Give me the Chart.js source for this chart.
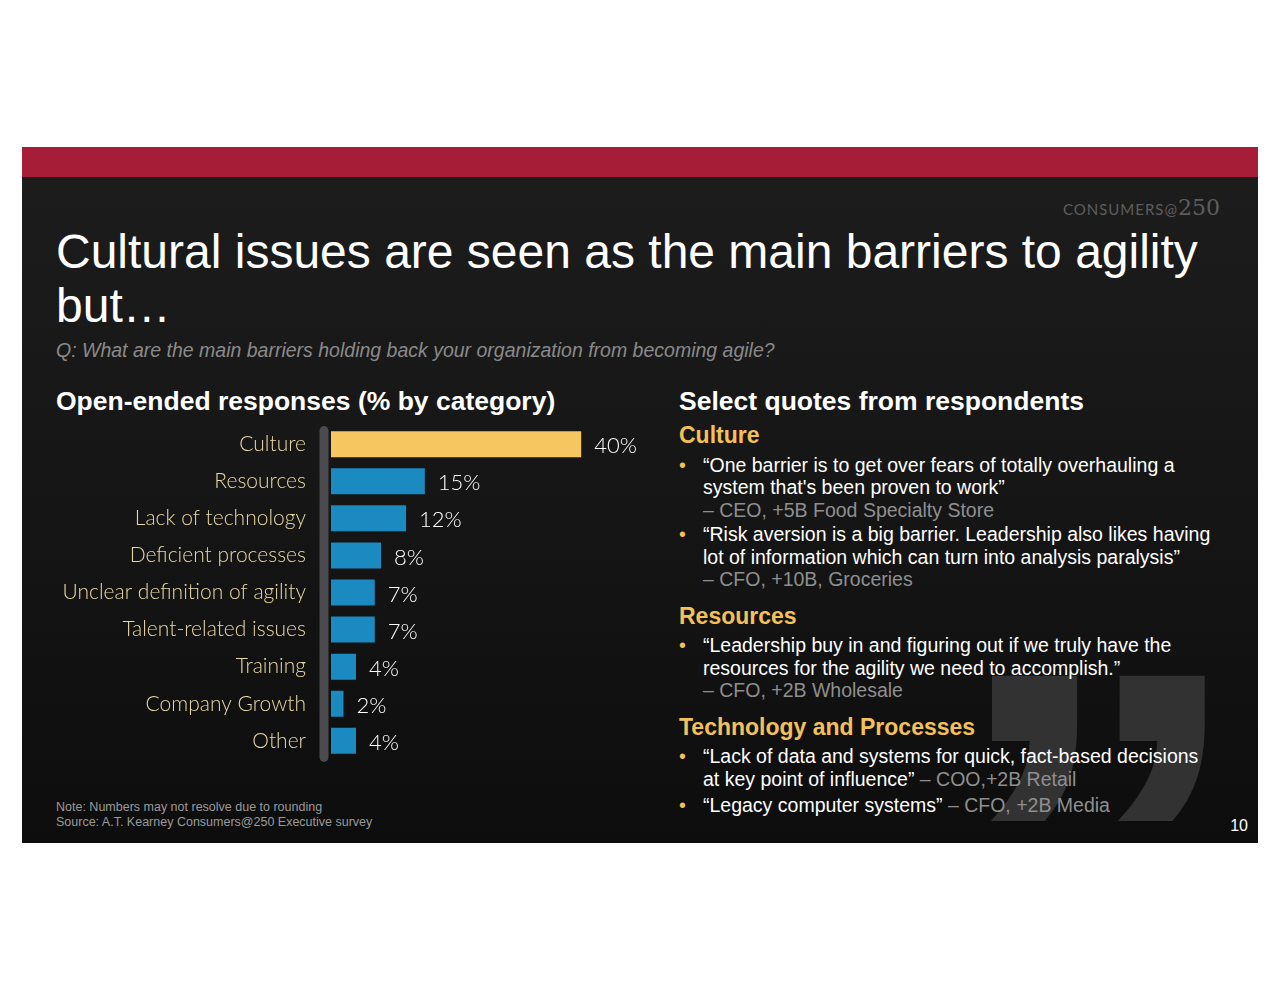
<!DOCTYPE html>
<html><head><meta charset="utf-8">
<script src="https://cdn.jsdelivr.net/npm/chart.js"></script>
<style>
body{margin:0;width:1280px;height:990px;background:#fff;position:relative;overflow:hidden;font-family:"Liberation Sans",Arial,sans-serif}
#panel{position:absolute;left:22px;top:147px;width:1236px;height:696px;background:linear-gradient(180deg,#1d1d1d 0%,#141414 60%,#0d0d0d 100%);overflow:hidden}
#band{position:absolute;left:0;top:0;width:100%;height:30px;background:#a51d36}
.abs{position:absolute}
#logo{right:38px;top:48px;color:#5e5e5e;font-family:Lato;font-size:15px;letter-spacing:1px}
#logo b{font-family:"DejaVu Serif";font-weight:normal;font-size:22px;letter-spacing:0}
#title{left:34px;top:78px;color:#fff;font-size:48px;line-height:54px;width:1190px}
#q{left:34px;top:192px;color:#8a8a8a;font-style:italic;font-size:19.5px}
#h1{left:34px;top:239px;color:#fff;font-weight:bold;font-size:26.5px}
#h2{left:657px;top:239px;color:#fff;font-weight:bold;font-size:26.5px}
#quote{left:924px;top:447px;color:#323232;font-family:"Liberation Sans";font-weight:bold;font-size:515px;line-height:515px;transform:scaleX(1.18);transform-origin:left top}
#quotes{left:657px;top:277px;width:535px;color:#fff;font-size:19.5px;line-height:22.5px}
#quotes h3{color:#f3c15a;font-size:23px;margin:0 0 7px 0}
#quotes .it{position:relative;padding-left:24px;margin-bottom:2px}
#quotes .it:before{content:"•";color:#f3c15a;position:absolute;left:0}
.g{color:#8f8f8f}
#note{left:34px;top:653px;color:#9a9a9a;font-size:12.5px;line-height:15px}
#pg{right:10px;top:670px;color:#fff;font-size:16px}
#c{position:absolute;left:18px;top:249px}
</style></head><body>
<div id="panel">
<div id="band"></div>
<div class="abs" id="logo">CONSUMERS@<b>250</b></div>
<div class="abs" id="title">Cultural issues are seen as the main barriers to agility but…</div>
<div class="abs" id="q">Q: What are the main barriers holding back your organization from becoming agile?</div>
<div class="abs" id="h1">Open-ended responses (% by category)</div>
<div class="abs" id="h2">Select quotes from respondents</div>
<div class="abs" id="quote">”</div>
<div class="abs" id="quotes">
<h3>Culture</h3>
<div class="it">“One barrier is to get over fears of totally overhauling a system that's been proven to work”<br><span class="g">– CEO, +5B Food Specialty Store</span></div>
<div class="it">“Risk aversion is a big barrier. Leadership also likes having lot of information which can turn into analysis paralysis”<br><span class="g">– CFO, +10B, Groceries</span></div>
<h3 style="margin-top:14px">Resources</h3>
<div class="it">“Leadership buy in and figuring out if we truly have the resources for the agility we need to accomplish.”<br><span class="g">– CFO, +2B Wholesale</span></div>
<h3 style="margin-top:14px">Technology and Processes</h3>
<div class="it">“Lack of data and systems for quick, fact-based decisions at key point of influence” <span class="g">– COO,+2B Retail</span></div>
<div class="it" style="margin-top:4px">“Legacy computer systems” <span class="g">– CFO, +2B Media</span></div>
</div>
<div class="abs" id="note">Note: Numbers may not resolve due to rounding<br>Source: A.T. Kearney Consumers@250 Executive survey</div>
<div class="abs" id="pg">10</div>
<canvas id="c" width="620" height="393"></canvas>
</div>
<script>
const categories=["Culture","Resources","Lack of technology","Deficient processes","Unclear definition of agility","Talent-related issues","Training","Company Growth","Other"];
const values=[40,15,12,8,7,7,4,2,4];
const valueLabels=["40%","15%","12%","8%","7%","7%","4%","2%","4%"];
const colors=values.map((v,i)=>i===0?"#f6c761":"#1b8ac0");
const deco={id:"deco",beforeDatasetsDraw(ch){const c=ch.ctx,a=ch.chartArea;c.save();c.strokeStyle="#4a4a4f";c.lineWidth=9;c.lineCap="round";c.beginPath();c.moveTo(a.left-7,a.top+5);c.lineTo(a.left-7,a.bottom-2);c.stroke();c.restore();},
afterDatasetsDraw(ch){const c=ch.ctx;c.save();c.fillStyle="#fff";c.font="300 22px Lato";c.textBaseline="middle";ch.getDatasetMeta(0).data.forEach((b,i)=>{c.fillText(valueLabels[i],b.x+13,b.y+2);});c.restore();}};
new Chart(document.getElementById("c"),{type:"bar",data:{labels:categories,datasets:[{data:values,backgroundColor:colors,barPercentage:0.7,categoryPercentage:1}]},
options:{indexAxis:"y",responsive:false,animation:false,layout:{padding:0},
plugins:{legend:{display:false},tooltip:{enabled:false}},
scales:{x:{display:false,min:0,max:52.6},y:{afterFit(s){s.width=291;},grid:{display:false},border:{display:false},ticks:{color:"#e9d9a6",font:{family:"Lato",size:21,weight:300},padding:17,autoSkip:false}}}},plugins:[deco]});
</script>
</body></html>
